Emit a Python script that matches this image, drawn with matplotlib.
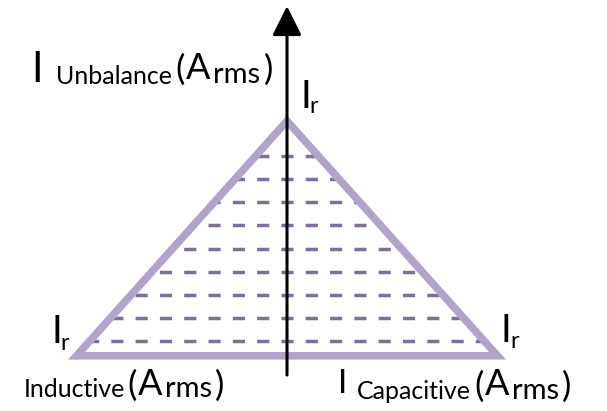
import matplotlib.pyplot as plt
from matplotlib.patches import Polygon

# Triangle: unbalance vs inductive/capacitive current, rated current Ir = 1
ir = 1.0
tri_x = [-ir, 0.0, ir]
tri_y = [-0.012, ir, -0.012]

# Dashed fill levels inside the triangle
dash_levels = [0.05, 0.15, 0.25, 0.35, 0.45, 0.55, 0.65, 0.75, 0.85]

# Axis extents (data units)
x_axis = [-1.26, 1.54]
y_axis = [-0.095, 1.495]

tri_color = "#b3a3cc"
dash_color = "#7f6e9b"
font = "Lato"

W, H = 607, 411
fig = plt.figure(figsize=(W / 100, H / 100), dpi=100)
ax = fig.add_axes([0, 0, 1, 1])
ax.set_xlim(-287 / 210.5, 320 / 210.5)
ax.set_ylim(-58 / 232, 353 / 232)
ax.axis("off")

# triangle outline
tri = Polygon(list(zip(tri_x, tri_y)), closed=True, fill=False,
              edgecolor=tri_color, lw=5.5, joinstyle="miter", zorder=2)
ax.add_patch(tri)

# dashed rows, dashes centred on the vertical axis, clipped to the triangle
for lv in dash_levels:
    for side in (-1, 1):
        ln, = ax.plot([0, side * ir], [lv, lv], color=dash_color, lw=2.5,
                      linestyle=(1.75, (3.5, 3.5)), zorder=1)
        ln.set_clip_path(tri)

# axes with arrows
ax.annotate("", xy=(x_axis[1], 0), xytext=(x_axis[0], 0),
            arrowprops=dict(arrowstyle="-|>,head_length=0.55,head_width=0.28",
                            mutation_scale=30, lw=2.2, color="black",
                            shrinkA=0, shrinkB=0), zorder=3)
ax.annotate("", xy=(0, y_axis[1]), xytext=(0, y_axis[0]),
            arrowprops=dict(arrowstyle="-|>,head_length=0.6,head_width=0.3",
                            mutation_scale=30, lw=2.2, color="black",
                            shrinkA=0, shrinkB=0), zorder=3)

renderer = fig.canvas.get_renderer()


def label_row(x, base, pieces):
    # pieces: (text, size, baseline shift px, gap px before this piece)
    for s, size, dy, gap in pieces:
        x += gap
        t = fig.text(x / W, 1 - (base + dy) / H, s, fontsize=size,
                     family=font, ha="left", va="baseline", color="black")
        x = t.get_window_extent(renderer).x1


# I_Unbalance (A_rms)
label_row(31, 82, [("I", 30, 0, 0), ("Unbalance", 18, 2, 14),
                   ("(", 25, -2, 3), ("A", 26, -3, 1),
                   ("rms", 21, 1, 3), (")", 25, -2, 3)])

# I_r labels
label_row(300, 108, [("I", 28, 0, 0), ("r", 17, 5, -1)])
label_row(51, 343, [("I", 28, 0, 0), ("r", 17, 7, -1)])
label_row(501, 342, [("I", 28, 0, 0), ("r", 17, 6, -1)])

# Inductive (A_rms)
label_row(24, 397, [("Inductive", 18, 0, 0), ("(", 25, -1, 2),
                    ("A", 26, -2, 1), ("rms", 21, 0, 3), (")", 25, -1, 3)])

# I_Capacitive (A_rms)
label_row(338, 393, [("I", 24, 0, 0), ("Capacitive", 18, 6, 10),
                     ("(", 25, 4, 3), ("A", 26, 2, 1),
                     ("rms", 21, 6, 3), (")", 25, 4, 3)])

fig.savefig("out.png", dpi=100)
